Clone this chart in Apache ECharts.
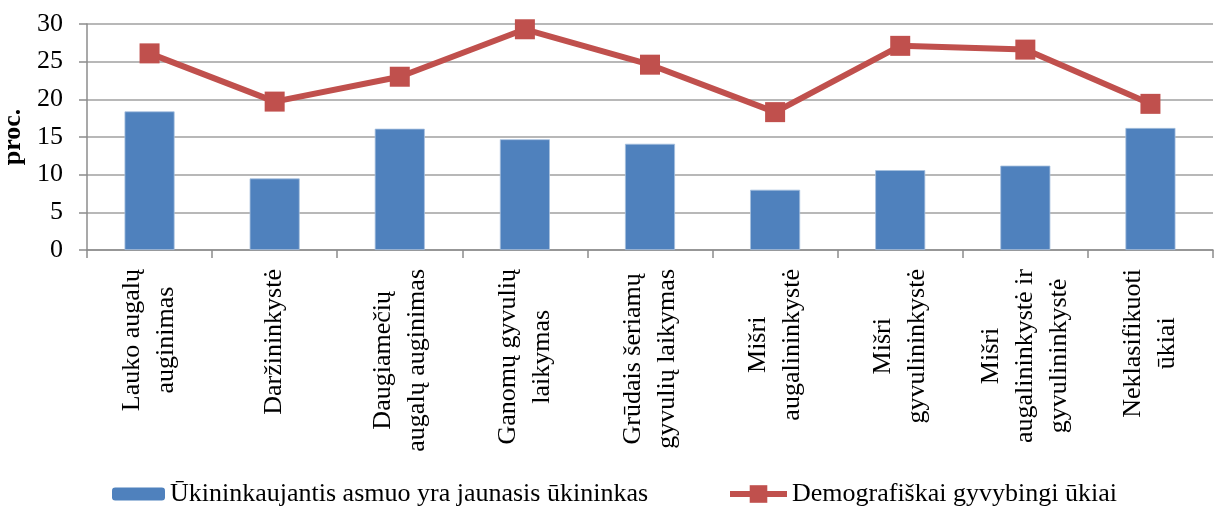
<!DOCTYPE html>
<html>
<head>
<meta charset="utf-8">
<script src="https://cdn.jsdelivr.net/npm/echarts@6/dist/echarts.min.js"></script>
<style>
  html, body { margin: 0; padding: 0; background: #fff; }
  #chart { width: 1216px; height: 506px; }
</style>
</head>
<body>
<div id="chart"></div>
<script>
// ūkių tipai (x ašis)
const categories = [
  'Lauko augalų\nauginimas',
  'Daržininkystė',
  'Daugiamečių\naugalų auginimas',
  'Ganomų gyvulių\nlaikymas',
  'Grūdais šeriamų\ngyvulių laikymas',
  'Mišri\naugalininkystė',
  'Mišri\ngyvulininkystė',
  'Mišri\naugalininkystė ir\ngyvulininkystė',
  'Neklasifikuoti\nūkiai'
]
const youngFarmer = [18.4, 9.5, 16.1, 14.7, 14.1, 8.0, 10.6, 11.2, 16.2]
const viableFarms = [26.1, 19.7, 23.0, 29.3, 24.6, 18.3, 27.1, 26.6, 19.4]
const seriesNames = ['Ūkininkaujantis asmuo yra jaunasis ūkininkas', 'Demografiškai gyvybingi ūkiai']

const font = 'Liberation Serif'
const chart = echarts.init(document.getElementById('chart'))

chart.setOption({
  animation: false,
  textStyle: {fontFamily: font, color: '#000'},
  grid: {left: 87, right: 3, top: 24, bottom: 256, containLabel: false, outerBoundsMode: 'none'},
  legend: [
    {
      data: [seriesNames[0]],
      left: 107, top: 476,
      itemWidth: 53, itemHeight: 13, itemGap: 6,
      itemStyle: {borderWidth: 0},
      textStyle: {fontFamily: font, fontSize: 26, color: '#000'}
    },
    {
      data: [seriesNames[1]],
      left: 722, top: 476,
      itemWidth: 57, itemHeight: 22, itemGap: 6,
      lineStyle: {width: 6},
      textStyle: {fontFamily: font, fontSize: 26, color: '#000'}
    }
  ],
  xAxis: {
    type: 'category',
    data: categories,
    boundaryGap: true,
    axisLine: {lineStyle: {color: '#8c8c8c', width: 1.5}},
    axisTick: {show: true, length: 8, lineStyle: {color: '#8c8c8c', width: 1.5}},
    axisLabel: {
      rotate: 90,
      interval: 0,
      margin: 19,
      fontSize: 26,
      fontFamily: font,
      color: '#000',
      lineHeight: 34,
      formatter: (v) => v.split('\n').map(s => '{c|' + s + '}').join('\n'),
      rich: {c: {align: 'center', fontSize: 26, fontFamily: font, lineHeight: 34, color: '#000'}}
    }
  },
  yAxis: {
    type: 'value',
    min: 0, max: 30, interval: 5,
    name: 'proc.',
    nameLocation: 'middle',
    nameRotate: 90,
    nameGap: 51,
    nameTextStyle: {fontFamily: font, fontSize: 26, fontWeight: 'bold', color: '#000'},
    axisLine: {show: true, lineStyle: {color: '#8c8c8c', width: 1.5}},
    axisTick: {show: true, length: 8, lineStyle: {color: '#8c8c8c', width: 1.5}},
    axisLabel: {fontSize: 26, fontFamily: font, color: '#000', margin: 24},
    splitLine: {lineStyle: {color: '#a0a0a0', width: 1.5}}
  },
  series: [
    {
      name: seriesNames[0],
      type: 'bar',
      data: youngFarmer,
      barWidth: '40%',
      itemStyle: {color: '#4f81bd', borderColor: '#a7c0de', borderWidth: 0.8}
    },
    {
      name: seriesNames[1],
      type: 'line',
      data: viableFarms,
      symbol: 'rect',
      symbolSize: 20,
      lineStyle: {color: '#c0504d', width: 6},
      itemStyle: {color: '#c0504d'}
    }
  ]
})
</script>
</body>
</html>
